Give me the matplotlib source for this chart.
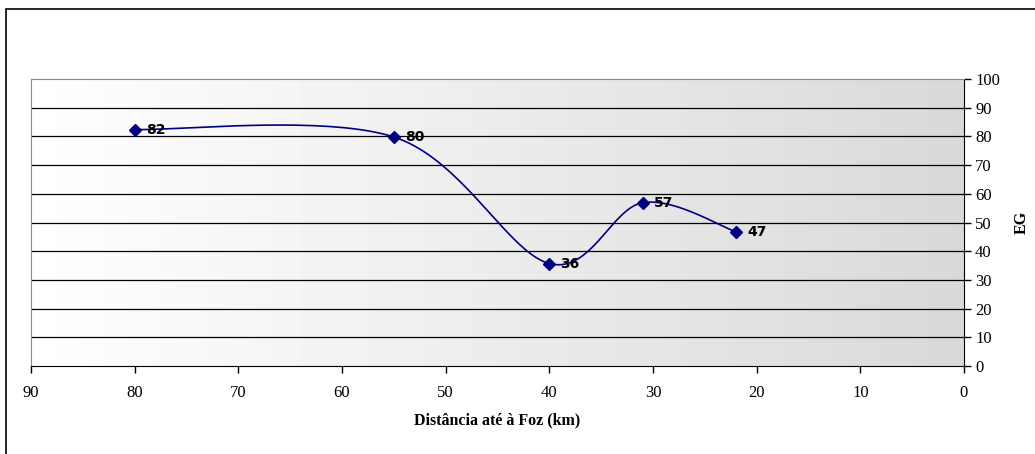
import numpy as np
import matplotlib.pyplot as plt
from matplotlib.patches import Rectangle

# dados
dist = np.array([80, 55, 40, 31, 22])
eg = np.array([82.4, 79.8, 35.7, 56.9, 46.8])
rotulos = ['82', '80', '36', '57', '47']

def suavizar(x, y, n=40):
    # curva suavizada tipo Excel (Catmull-Rom / Bezier)
    px = np.concatenate([[x[0]], x, [x[-1]]])
    py = np.concatenate([[y[0]], y, [y[-1]]])
    xs, ys = [], []
    t = np.linspace(0, 1, n)
    for i in range(1, len(px) - 2):
        p0 = np.array([px[i], py[i]])
        p3 = np.array([px[i + 1], py[i + 1]])
        c1 = p0 + (np.array([px[i + 1], py[i + 1]]) - np.array([px[i - 1], py[i - 1]])) / 6
        c2 = p3 - (np.array([px[i + 2], py[i + 2]]) - np.array([px[i], py[i]])) / 6
        b = ((1 - t) ** 3)[:, None] * p0 + (3 * (1 - t) ** 2 * t)[:, None] * c1 \
            + (3 * (1 - t) * t ** 2)[:, None] * c2 + (t ** 3)[:, None] * p3
        xs.extend(b[:, 0])
        ys.extend(b[:, 1])
    return np.array(xs), np.array(ys)

plt.rcParams['font.family'] = ['Liberation Serif', 'DejaVu Serif']

fig = plt.figure(figsize=(10.35, 4.54), dpi=100)
ax = fig.add_axes([31 / 1035, 1 - 366 / 454, 933 / 1035, 287 / 454])

# moldura exterior
fig.patches.append(Rectangle((6 / 1035, -0.1), 1.2, 1 - 9.5 / 454 + 0.1,
                             transform=fig.transFigure, fill=False,
                             edgecolor='black', linewidth=1.2))

# fundo em gradiente
grad = np.linspace(1.0, 0.85, 256).reshape(1, -1)
ax.imshow(grad, cmap='gray', vmin=0, vmax=1, aspect='auto',
          extent=[90, 0, 0, 100], zorder=0)

ax.set_xlim(90, 0)
ax.set_ylim(0, 100)
ax.set_xticks(np.arange(90, -1, -10))
ax.set_yticks(np.arange(0, 101, 10))
ax.yaxis.tick_right()
ax.yaxis.set_label_position('right')
ax.tick_params(axis='both', direction='out', length=5, width=1, labelsize=12, pad=3)
ax.tick_params(axis='x', pad=9)

for v in range(10, 100, 10):
    ax.axhline(v, color='black', linewidth=0.9, zorder=1)

for s in ['left', 'top']:
    ax.spines[s].set_color('#888888')
for s in ['right', 'bottom']:
    ax.spines[s].set_color('black')

xs, ys = suavizar(dist, eg)
ax.plot(xs, ys, color='#000080', linewidth=1.2, zorder=3)
ax.plot(dist, eg, linestyle='none', marker='D', markersize=6,
        color='#000080', zorder=4)
for xi, yi, r in zip(dist, eg, rotulos):
    ax.annotate(r, (xi, yi), xytext=(8, 0), textcoords='offset points',
                va='center', ha='left', fontsize=10, fontweight='bold',
                family='DejaVu Sans', zorder=5)

ax.set_xlabel('Distância até à Foz (km)', fontsize=11.5, fontweight='bold', labelpad=8)
ax.set_ylabel('EG', fontsize=11.5, fontweight='bold', labelpad=10)

fig.savefig('out.png', dpi=100)
